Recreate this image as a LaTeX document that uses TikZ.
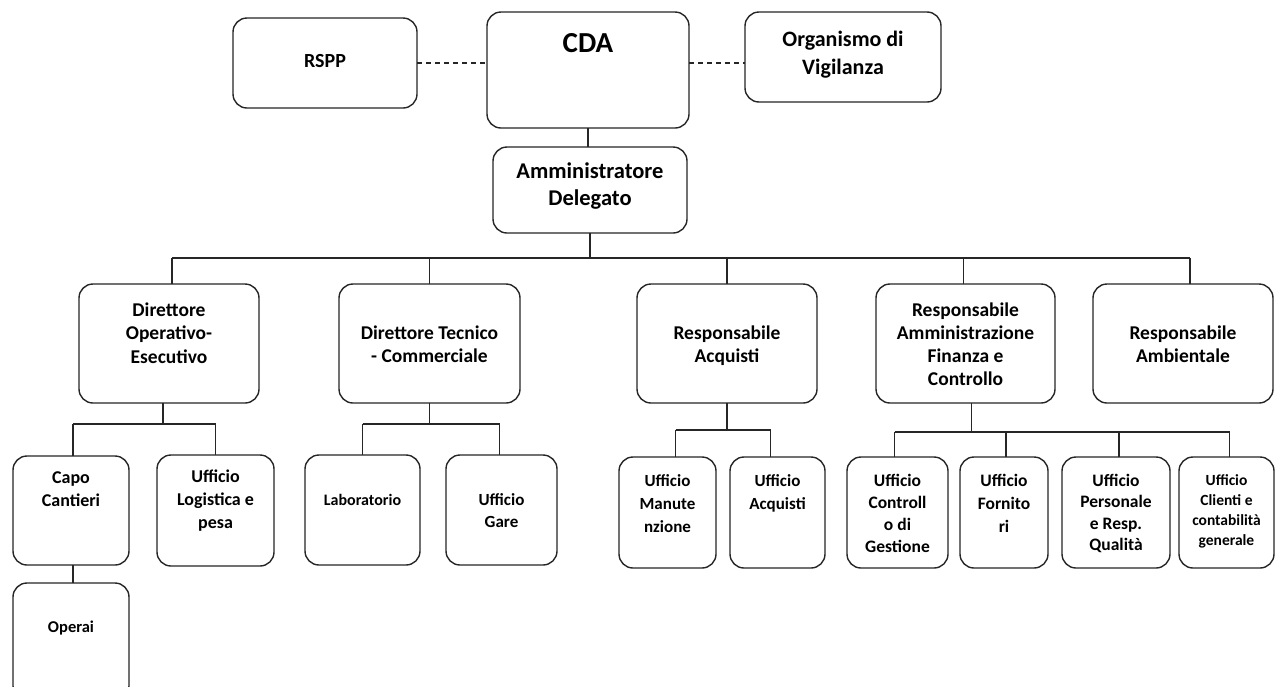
\documentclass[tikz,border=0pt]{standalone}
\usepackage{fontspec}
\setmainfont{Carlito}
\tikzset{
  orgbox/.style={draw=black!85, line width=1.4pt, rounded corners=14pt, inner sep=0pt, outer sep=0pt},
  conn/.style={draw=black!85, line width=1.4pt},
  dashline/.style={draw=black!85, line width=1.4pt, dash pattern=on 5pt off 4pt}
}
% name, x1, y1, x2, y2, baseline offset, font size, line skip, text
\newcommand\obox[9]{%
  \node[orgbox] (#1) at ({(#2+#4)/2},{(#3+#5)/2})
    {\parbox[t][\dimexpr#5pt-#3pt\relax][t]{\dimexpr#4pt-#2pt\relax}{\centering\fontsize{#7}{#8}\selectfont\bfseries\rule{0pt}{#6pt}#9\par}};}
\begin{document}
\begin{tikzpicture}[x=1pt,y=-1pt]
\fill[white] (0,0) rectangle (1276,686);
\useasboundingbox (0,0) rectangle (1276,686);
\clip (0,0) rectangle (1276,686);
% top row
\obox{rspp}{233}{18}{417}{108}{49}{20}{24}{RSPP}
\obox{cda}{487}{12}{689}{128}{40}{29}{32}{CDA}
\obox{odv}{745}{12}{941}{102}{34}{22}{28}{Organismo di\\Vigilanza}
\obox{ad}{493}{147}{687}{233}{31}{22.5}{27}{Amministratore\\Delegato}
% level 2
\obox{doe}{79}{284}{259}{403}{32}{19.5}{23.5}{Direttore\\Operativo-\\Esecutivo}
\obox{dtc}{339}{284}{520}{403}{55}{19.5}{23.5}{Direttore Tecnico\\- Commerciale}
\obox{racq}{637}{284}{817}{403}{55}{19.5}{23.5}{Responsabile\\Acquisti}
\obox{rafc}{876}{284}{1055}{403}{32}{19.5}{23}{Responsabile\\Amministrazione\\Finanza e\\Controllo}
\obox{ramb}{1093}{284}{1273}{403}{55}{19.5}{23.5}{Responsabile\\Ambientale}
% level 3
\obox{capo}{13}{456}{129}{565}{27}{18}{23}{Capo\\Cantieri}
\obox{ulog}{157}{455}{274}{566}{27}{18}{23}{Ufficio\\Logistica e\\pesa}
\obox{lab}{305}{455}{420}{565}{50}{16}{20}{Laboratorio}
\obox{gare}{446}{455}{557}{565}{50}{17}{22}{Ufficio\\Gare}
\obox{uman}{619}{457}{716}{568}{29}{17}{23}{Ufficio\\Manute\\nzione}
\obox{uacq}{730}{457}{825}{568}{29}{17}{23}{Ufficio\\Acquisti}
\obox{uctrl}{847}{457}{948}{568}{29}{17.5}{22}{Ufficio\\Controll\\o di\\Gestione}
\obox{uforn}{960}{457}{1048}{568}{29}{17.5}{23}{Ufficio\\Fornito\\ri}
\obox{upers}{1062}{457}{1170}{568}{29}{17.5}{21.5}{Ufficio\\Personale\\e Resp.\\Qualità}
\obox{ucli}{1179}{457}{1274}{568}{28}{15.5}{20}{Ufficio\\Clienti e\\contabilità\\generale}
\obox{operai}{13}{583}{129}{700}{49}{16.5}{20}{Operai}
% coordinates of buses
\coordinate (b1) at (590,258);
\coordinate (b2) at (0,424);
\coordinate (b3) at (0,430);
\coordinate (b4) at (0,432);
% dashed links
\draw[dashline] (rspp.east) -- (rspp.east -| cda.west);
\draw[dashline] (cda.east |- rspp.east) -- (odv.west |- rspp.east);
% CDA -> AD
\draw[conn] (cda.south) -- (cda.south |- ad.north);
% AD -> level 2
\draw[conn] (ad.south) -- (ad.south |- b1);
\draw[conn] ([xshift=3pt]doe.north |- b1) -- ([xshift=7pt]ramb.north |- b1);
\draw[conn] ([xshift=3pt]doe.north |- b1) -- ([xshift=3pt]doe.north);
\draw[conn] (dtc.north |- b1) -- (dtc.north);
\draw[conn] (racq.north |- b1) -- (racq.north);
\draw[conn] ([xshift=-2pt]rafc.north |- b1) -- ([xshift=-2pt]rafc.north);
\draw[conn] ([xshift=7pt]ramb.north |- b1) -- ([xshift=7pt]ramb.north);
% DOE children
\draw[conn] ([xshift=-6pt]doe.south) -- ([xshift=-6pt]doe.south |- b2);
\draw[conn] ([xshift=2pt]capo.north |- b2) -- (ulog.north |- b2);
\draw[conn] ([xshift=2pt]capo.north |- b2) -- ([xshift=2pt]capo.north);
\draw[conn] (ulog.north |- b2) -- (ulog.north);
\draw[conn] ([xshift=2pt]capo.south) -- ([xshift=2pt]operai.north);
% DTC children
\draw[conn] (dtc.south) -- (dtc.south |- b2);
\draw[conn] (lab.north |- b2) -- ([xshift=-2pt]gare.north |- b2);
\draw[conn] (lab.north |- b2) -- (lab.north);
\draw[conn] ([xshift=-2pt]gare.north |- b2) -- ([xshift=-2pt]gare.north);
% Resp. Acquisti children
\draw[conn] (racq.south) -- (racq.south |- b3);
\draw[conn] ([xshift=8pt]uman.north |- b3) -- ([xshift=-7pt]uacq.north |- b3);
\draw[conn] ([xshift=8pt]uman.north |- b3) -- ([xshift=8pt]uman.north);
\draw[conn] ([xshift=-7pt]uacq.north |- b3) -- ([xshift=-7pt]uacq.north);
% RAFC children
\draw[conn] ([xshift=6pt]rafc.south) -- ([xshift=6pt]rafc.south |- b4);
\draw[conn] ([xshift=-3pt]uctrl.north |- b4) -- ([xshift=3pt]ucli.north |- b4);
\draw[conn] ([xshift=-3pt]uctrl.north |- b4) -- ([xshift=-3pt]uctrl.north);
\draw[conn] ([xshift=2pt]uforn.north |- b4) -- ([xshift=2pt]uforn.north);
\draw[conn] ([xshift=3pt]upers.north |- b4) -- ([xshift=3pt]upers.north);
\draw[conn] ([xshift=3pt]ucli.north |- b4) -- ([xshift=3pt]ucli.north);
\end{tikzpicture}
\end{document}
